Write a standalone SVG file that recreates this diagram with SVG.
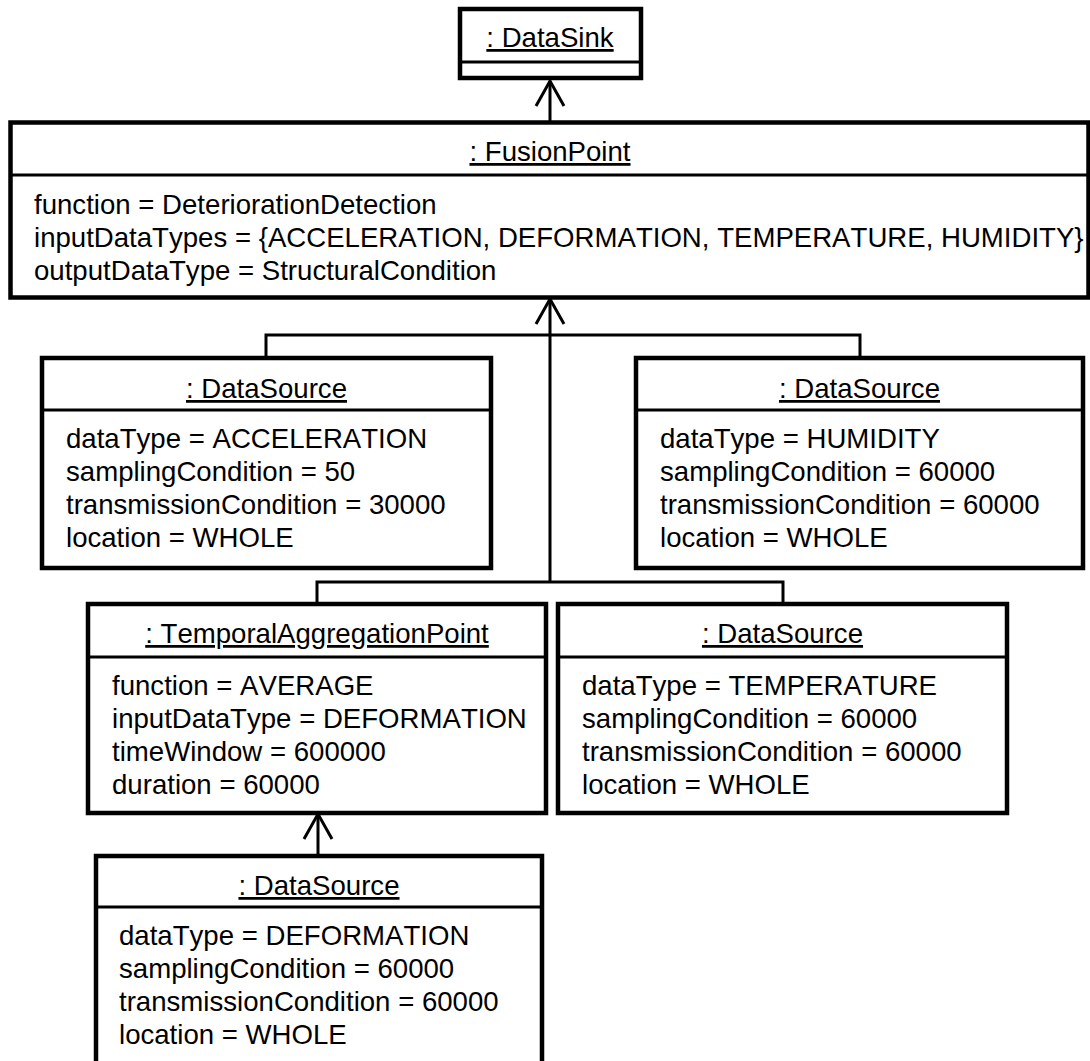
<svg xmlns="http://www.w3.org/2000/svg" width="1090" height="1061" viewBox="0 0 1090 1061">
  <style>
    text { font-family: "Liberation Sans", Arial, sans-serif; font-size: 27.6px; fill: #000; font-kerning: none; }
    .title { text-anchor: middle; text-decoration: underline; }
    .box { fill: #fff; stroke: #000; stroke-width: 4.5; }
    .sep { stroke: #000; stroke-width: 3; }
    .conn { fill: none; stroke: #000; stroke-width: 3; }
    .dep { fill: none; stroke: #000; stroke-width: 3; marker-end: url(#open); }
  </style>
  <defs>
    <!-- open arrowhead at the target end of each dependency -->
    <marker id="open" viewBox="-27 -16 30 32" markerWidth="30" markerHeight="32" refX="0" refY="0" markerUnits="userSpaceOnUse" orient="auto" overflow="visible">
      <polyline points="-25,-14 0,0 -25,14" fill="none" stroke="#000" stroke-width="3"/>
    </marker>
  </defs>

  <!-- connectors -->
  <g id="connectors">
    <line class="dep" x1="550" y1="122" x2="550" y2="81"/>
    <line class="dep" x1="550" y1="582" x2="550" y2="299"/>
    <polyline class="conn" points="266,358 266,335 860,335 860,358"/>
    <polyline class="conn" points="317,604 317,582 783,582 783,604"/>
    <line class="dep" x1="318" y1="856" x2="318" y2="814"/>
  </g>

  <!-- : DataSink -->
  <g id="datasink">
    <rect class="box" x="460" y="9" width="181" height="69"/>
    <line class="sep" x1="460" y1="62" x2="641" y2="62"/>
    <text class="title" x="550" y="47">: DataSink</text>
  </g>

  <!-- : FusionPoint -->
  <g id="fusionpoint">
    <rect class="box" x="10.5" y="122.5" width="1078" height="175"/>
    <line class="sep" x1="10.5" y1="175" x2="1088.5" y2="175"/>
    <text class="title" x="550" y="161">: FusionPoint</text>
    <text x="34" y="214">function = DeteriorationDetection</text>
    <text x="34" y="247">inputDataTypes = {ACCELERATION, DEFORMATION, TEMPERATURE, HUMIDITY}</text>
    <text x="34" y="280">outputDataType = StructuralCondition</text>
  </g>

  <!-- : DataSource (acceleration) -->
  <g id="source-acceleration">
    <rect class="box" x="42" y="358" width="449" height="210"/>
    <line class="sep" x1="42" y1="410" x2="491" y2="410"/>
    <text class="title" x="266.5" y="398">: DataSource</text>
    <text x="66" y="448">dataType = ACCELERATION</text>
    <text x="66" y="481">samplingCondition = 50</text>
    <text x="66" y="514">transmissionCondition = 30000</text>
    <text x="66" y="547">location = WHOLE</text>
  </g>

  <!-- : DataSource (humidity) -->
  <g id="source-humidity">
    <rect class="box" x="636" y="358" width="447" height="210"/>
    <line class="sep" x1="636" y1="410" x2="1083" y2="410"/>
    <text class="title" x="859.5" y="398">: DataSource</text>
    <text x="660" y="448">dataType = HUMIDITY</text>
    <text x="660" y="481">samplingCondition = 60000</text>
    <text x="660" y="514">transmissionCondition = 60000</text>
    <text x="660" y="547">location = WHOLE</text>
  </g>

  <!-- : TemporalAggregationPoint -->
  <g id="temporal-aggregation">
    <rect class="box" x="88" y="604" width="458" height="209"/>
    <line class="sep" x1="88" y1="657" x2="546" y2="657"/>
    <text class="title" x="317" y="643">: TemporalAggregationPoint</text>
    <text x="112" y="695">function = AVERAGE</text>
    <text x="112" y="728">inputDataType = DEFORMATION</text>
    <text x="112" y="761">timeWindow = 600000</text>
    <text x="112" y="794">duration = 60000</text>
  </g>

  <!-- : DataSource (temperature) -->
  <g id="source-temperature">
    <rect class="box" x="558" y="604" width="449" height="209"/>
    <line class="sep" x1="558" y1="657" x2="1007" y2="657"/>
    <text class="title" x="782.5" y="643">: DataSource</text>
    <text x="582" y="695">dataType = TEMPERATURE</text>
    <text x="582" y="728">samplingCondition = 60000</text>
    <text x="582" y="761">transmissionCondition = 60000</text>
    <text x="582" y="794">location = WHOLE</text>
  </g>

  <!-- : DataSource (deformation), runs past the lower edge -->
  <g id="source-deformation">
    <rect class="box" x="96" y="856" width="446" height="215"/>
    <line class="sep" x1="96" y1="907" x2="542" y2="907"/>
    <text class="title" x="319" y="895">: DataSource</text>
    <text x="119" y="945">dataType = DEFORMATION</text>
    <text x="119" y="978">samplingCondition = 60000</text>
    <text x="119" y="1011">transmissionCondition = 60000</text>
    <text x="119" y="1044">location = WHOLE</text>
  </g>
</svg>
